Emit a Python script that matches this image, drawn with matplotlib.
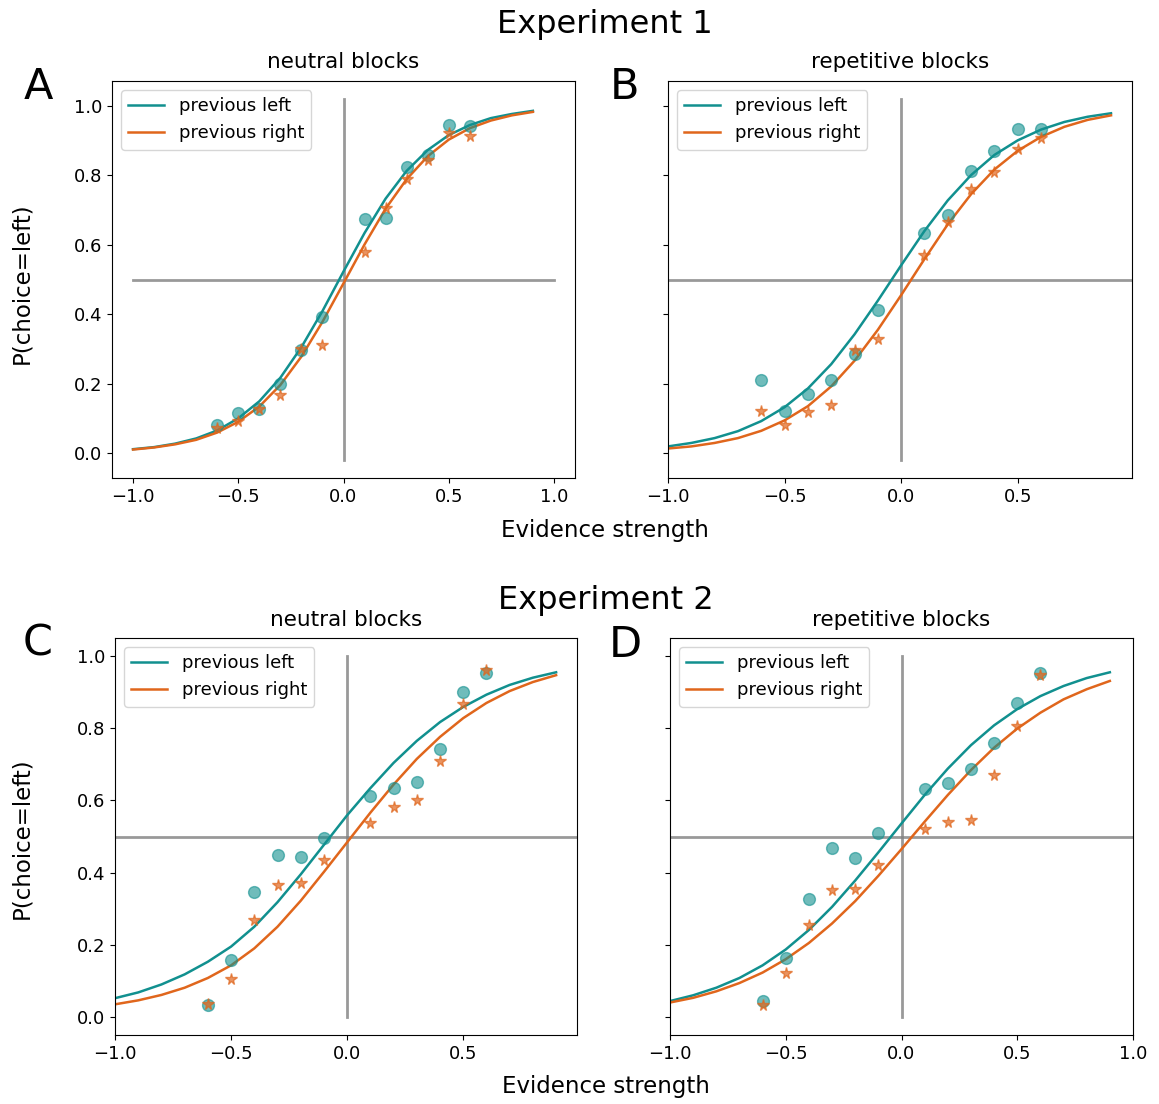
import matplotlib
matplotlib.use("Agg")
import matplotlib.pyplot as plt

# evidence levels of the behavioural data points
stim_x = [-0.6, -0.5, -0.4, -0.3, -0.2, -0.1, 0.1, 0.2, 0.3, 0.4, 0.5, 0.6]
# x grid of the fitted psychometric curves
fit_x = [-1.0, -0.9, -0.8, -0.7, -0.6, -0.5, -0.4, -0.3, -0.2, -0.1,
         0.0, 0.1, 0.2, 0.3, 0.4, 0.5, 0.6, 0.7, 0.8, 0.9]

# Experiment 1, neutral blocks
a_left_pts = [0.082, 0.115, 0.127, 0.200, 0.296, 0.391, 0.675, 0.678, 0.825, 0.858, 0.945, 0.941]
a_right_pts = [0.072, 0.091, 0.127, 0.168, 0.300, 0.310, 0.579, 0.705, 0.790, 0.843, 0.923, 0.913]
a_left_fit = [0.011, 0.017, 0.027, 0.042, 0.065, 0.100, 0.149, 0.217, 0.305, 0.409,
              0.523, 0.634, 0.733, 0.813, 0.873, 0.916, 0.945, 0.965, 0.977, 0.986]
a_right_fit = [0.010, 0.016, 0.025, 0.038, 0.059, 0.090, 0.134, 0.196, 0.278, 0.378,
               0.489, 0.601, 0.704, 0.789, 0.855, 0.903, 0.936, 0.958, 0.973, 0.983]

# Experiment 1, repetitive blocks
b_left_pts = [0.209, 0.122, 0.170, 0.211, 0.286, 0.413, 0.635, 0.685, 0.814, 0.870, 0.935, 0.935]
b_right_pts = [0.122, 0.082, 0.118, 0.139, 0.298, 0.329, 0.572, 0.665, 0.760, 0.810, 0.875, 0.909]
b_left_fit = [0.019, 0.029, 0.043, 0.063, 0.092, 0.132, 0.186, 0.256, 0.342, 0.439,
              0.541, 0.640, 0.728, 0.801, 0.859, 0.901, 0.932, 0.954, 0.969, 0.979]
b_right_fit = [0.013, 0.019, 0.029, 0.043, 0.064, 0.094, 0.135, 0.192, 0.266, 0.355,
               0.455, 0.559, 0.659, 0.746, 0.817, 0.871, 0.911, 0.940, 0.960, 0.973]

# Experiment 2, neutral blocks
c_left_pts = [0.034, 0.157, 0.346, 0.450, 0.444, 0.495, 0.611, 0.635, 0.651, 0.742, 0.899, 0.954]
c_right_pts = [0.037, 0.104, 0.268, 0.365, 0.372, 0.436, 0.537, 0.582, 0.600, 0.708, 0.868, 0.960]
c_left_fit = [0.052, 0.068, 0.090, 0.118, 0.153, 0.195, 0.250, 0.318, 0.395, 0.477,
              0.559, 0.634, 0.704, 0.765, 0.817, 0.859, 0.893, 0.920, 0.940, 0.955]
c_right_fit = [0.035, 0.046, 0.061, 0.081, 0.108, 0.143, 0.190, 0.250, 0.322, 0.402,
               0.484, 0.566, 0.644, 0.715, 0.776, 0.828, 0.870, 0.903, 0.928, 0.947]

# Experiment 2, repetitive blocks
d_left_pts = [0.044, 0.163, 0.328, 0.468, 0.440, 0.511, 0.631, 0.648, 0.688, 0.759, 0.870, 0.954]
d_right_pts = [0.034, 0.123, 0.256, 0.351, 0.354, 0.422, 0.522, 0.539, 0.545, 0.671, 0.806, 0.947]
d_left_fit = [0.044, 0.060, 0.081, 0.108, 0.143, 0.187, 0.241, 0.305, 0.378, 0.456,
              0.536, 0.615, 0.688, 0.753, 0.808, 0.853, 0.889, 0.917, 0.939, 0.955]
d_right_fit = [0.040, 0.053, 0.071, 0.094, 0.123, 0.160, 0.205, 0.259, 0.321, 0.391,
               0.465, 0.541, 0.615, 0.684, 0.746, 0.799, 0.843, 0.880, 0.908, 0.931]

TEAL = "#11908f"
ORANGE = "#e0661c"


def draw_panel(ax, left_pts, right_pts, left_fit, right_fit, title, vline_y):
    """Psychometric curves for one block type."""
    ax.plot([-1, 1], [0.5, 0.5], color="gray", alpha=0.8, lw=2)
    ax.plot([0, 0], vline_y, color="gray", alpha=0.8, lw=2)
    ax.plot(fit_x, left_fit, color=TEAL, lw=1.8, label="previous left")
    ax.plot(fit_x, right_fit, color=ORANGE, lw=1.8, label="previous right")
    ax.plot(stim_x, left_pts, "o", color=TEAL, alpha=0.6, ms=8.5, ls="none")
    ax.plot(stim_x, right_pts, "*", color=ORANGE, alpha=0.7, ms=8.5, ls="none")
    ax.set_title(title, fontsize=15.5, pad=9)
    ax.set_yticks([0, 0.2, 0.4, 0.6, 0.8, 1.0])
    ax.tick_params(labelsize=13)
    ax.legend(loc="upper left", fontsize=13)


def main():
    fig = plt.figure(figsize=(11.59, 11.04), dpi=100)
    W, H = 1159.0, 1104.0

    def box(l, t, r, b):
        return [l / W, 1 - b / H, (r - l) / W, (b - t) / H]

    ax_a = fig.add_axes(box(112, 81, 575, 478))
    ax_b = fig.add_axes(box(668, 81, 1132, 478))
    ax_c = fig.add_axes(box(115, 638, 577, 1035))
    ax_d = fig.add_axes(box(670, 638, 1133, 1035))

    draw_panel(ax_a, a_left_pts, a_right_pts, a_left_fit, a_right_fit, "neutral blocks", [-0.02, 1.02])
    draw_panel(ax_b, b_left_pts, b_right_pts, b_left_fit, b_right_fit, "repetitive blocks", [-0.02, 1.02])
    draw_panel(ax_c, c_left_pts, c_right_pts, c_left_fit, c_right_fit, "neutral blocks", [0, 1])
    draw_panel(ax_d, d_left_pts, d_right_pts, d_left_fit, d_right_fit, "repetitive blocks", [0, 1])

    ax_a.set_xlim(-1.1, 1.1)
    ax_b.set_xlim(-1.0, 0.99)
    ax_c.set_xlim(-1.0, 0.99)
    ax_d.set_xlim(-1.0, 1.0)
    for ax in (ax_a, ax_d):
        ax.set_xticks([-1.0, -0.5, 0.0, 0.5, 1.0])
    for ax in (ax_b, ax_c):
        ax.set_xticks([-1.0, -0.5, 0.0, 0.5])
    for ax in (ax_a, ax_b):
        ax.set_ylim(-0.072, 1.072)
    for ax in (ax_c, ax_d):
        ax.set_ylim(-0.05, 1.05)
    ax_b.set_yticklabels([])
    ax_d.set_yticklabels([])

    # shared texts
    fig.text(605 / W, 1 - 25 / H, "Experiment 1", ha="center", va="center", fontsize=23)
    fig.text(606 / W, 1 - 600 / H, "Experiment 2", ha="center", va="center", fontsize=23)
    fig.text(605 / W, 1 - 531 / H, "Evidence strength", ha="center", va="center", fontsize=16.5)
    fig.text(606 / W, 1 - 1087 / H, "Evidence strength", ha="center", va="center", fontsize=16.5)
    fig.text(22 / W, 1 - 283 / H, "P(choice=left)", ha="center", va="center",
             rotation=90, fontsize=16.5)
    fig.text(22 / W, 1 - 838 / H, "P(choice=left)", ha="center", va="center",
             rotation=90, fontsize=16.5)
    for letter, x, y in [("A", 38, 87), ("B", 625, 87), ("C", 38, 643), ("D", 625, 645)]:
        fig.text(x / W, 1 - y / H, letter, ha="center", va="center", fontsize=31)

    fig.savefig("out.png", dpi=100)


if __name__ == "__main__":
    main()
